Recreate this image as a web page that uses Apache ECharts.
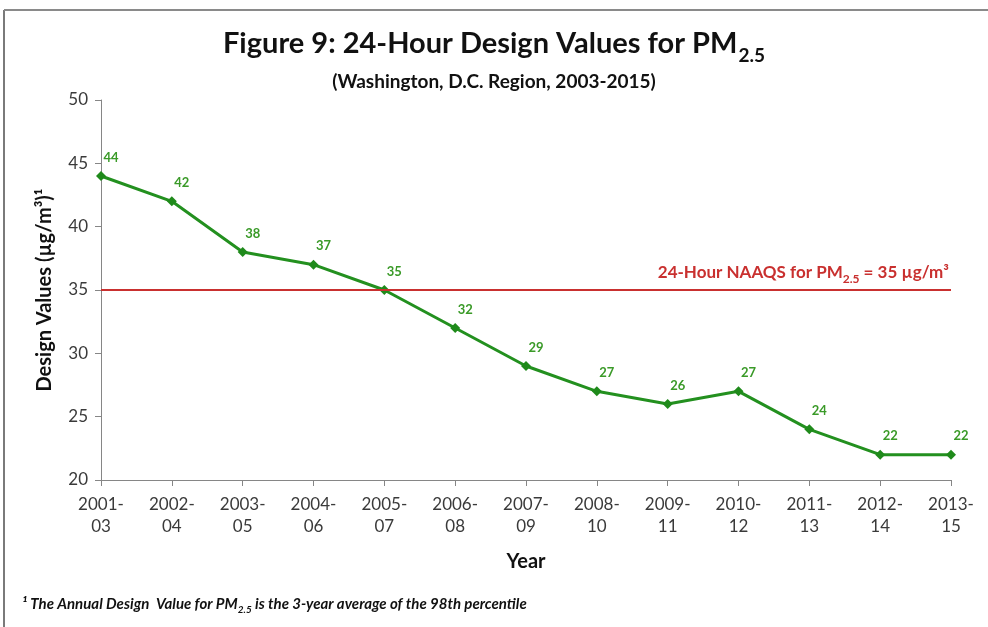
<!DOCTYPE html>
<html><head><meta charset="utf-8">
<script src="https://cdn.jsdelivr.net/npm/echarts@6/dist/echarts.min.js"></script>
<style>html,body{margin:0;padding:0;background:#fff}#c{width:988px;height:627px}</style>
</head><body><div id="c"></div>
<script>
const categories = ['2001-\n03','2002-\n04','2003-\n05','2004-\n06','2005-\n07','2006-\n08','2007-\n09','2008-\n10','2009-\n11','2010-\n12','2011-\n13','2012-\n14','2013-\n15'];
const designValues = [44,42,38,37,35,32,29,27,26,27,24,22,22];
const naaqsValue = 35;
const yTicks = {min:20, max:50, interval:5};

const FONT = 'Lato, "Open Sans", sans-serif';
const chart = echarts.init(document.getElementById('c'));
chart.setOption({
  backgroundColor:'#fff',
  animation:false,
  title:[{
    text:'{a|Figure 9: 24-Hour Design Values for PM}{s|2.5}',
    left:'center', top:24,
    textStyle:{rich:{
      a:{fontFamily:FONT,fontWeight:'bold',fontSize:29,color:'#111',verticalAlign:'bottom',padding:[0,0,7,0]},
      s:{fontFamily:FONT,fontWeight:'bold',fontSize:19,color:'#111',verticalAlign:'bottom',padding:[0,0,0,1]}
    }}
  },{
    text:'(Washington, D.C. Region, 2003-2015)',
    left:'center', top:67,
    textStyle:{fontFamily:FONT,fontWeight:'bold',fontSize:19,color:'#111'}
  }],
  grid:{left:101,right:37,top:100,bottom:147,containLabel:false},
  xAxis:{
    type:'category', data:categories, boundaryGap:false,
    name:'Year', nameLocation:'middle', nameGap:72,
    nameTextStyle:{fontFamily:FONT,fontWeight:'bold',fontSize:20,color:'#111'},
    axisLine:{lineStyle:{color:'#868686',width:1}},
    axisTick:{alignWithLabel:true,length:6,lineStyle:{color:'#868686'}},
    axisLabel:{fontFamily:FONT,fontSize:17,color:'#3a3a3a',margin:14,lineHeight:22,interval:0}
  },
  yAxis:{
    type:'value', min:yTicks.min, max:yTicks.max, interval:yTicks.interval,
    name:'Design Values (µg/m³)¹', nameLocation:'middle', nameGap:46,
    nameTextStyle:{fontFamily:FONT,fontWeight:'bold',fontSize:20,color:'#111'},
    axisLine:{show:true,lineStyle:{color:'#868686',width:1}},
    axisTick:{show:true,length:6,lineStyle:{color:'#868686'}},
    splitLine:{show:false},
    axisLabel:{fontFamily:FONT,fontSize:17,color:'#3a3a3a',margin:13}
  },
  series:[{
    type:'line', data:designValues,
    symbol:'diamond', symbolSize:10,
    lineStyle:{color:'#23901f',width:3},
    itemStyle:{color:'#1f8a1b'},
    label:{show:true,position:'top',offset:[10,-2],
      fontFamily:FONT,fontWeight:'bold',fontSize:13,color:'#3a9a28'},
    markLine:{
      silent:true, symbol:'none',
      lineStyle:{color:'#c9302f',width:2,type:'solid'},
      data:[{yAxis:naaqsValue}],
      label:{show:true,position:'insideEndTop',distance:[2,5],
        formatter:'{a|24-Hour NAAQS for PM}{s|2.5}{a| = 35 µg/m³}',
        rich:{
          a:{fontFamily:FONT,fontWeight:'bold',fontSize:17,color:'#c9302f',verticalAlign:'bottom',padding:[0,0,4,0]},
          s:{fontFamily:FONT,fontWeight:'bold',fontSize:12,color:'#c9302f',verticalAlign:'bottom'}
        }}
    }
  }],
  graphic:[
    {type:'line',shape:{x1:4,y1:10,x2:4,y2:627},style:{stroke:'#7a7a7a',lineWidth:2}},
    {type:'line',shape:{x1:4,y1:10,x2:988,y2:10},style:{stroke:'#8a8a8a',lineWidth:2}},
    {type:'text',left:22,top:597,style:{
      text:'{a|¹ The Annual Design  Value for PM}{s|2.5}{a| is the 3-year average of the 98th percentile}',
      rich:{
        a:{fontFamily:FONT,fontStyle:'italic',fontWeight:'bold',fontSize:15,fill:'#111',verticalAlign:'bottom',padding:[0,0,3,0]},
        s:{fontFamily:FONT,fontStyle:'italic',fontWeight:'bold',fontSize:10,fill:'#111',verticalAlign:'bottom'}
      }}}
  ]
});
</script></body></html>
